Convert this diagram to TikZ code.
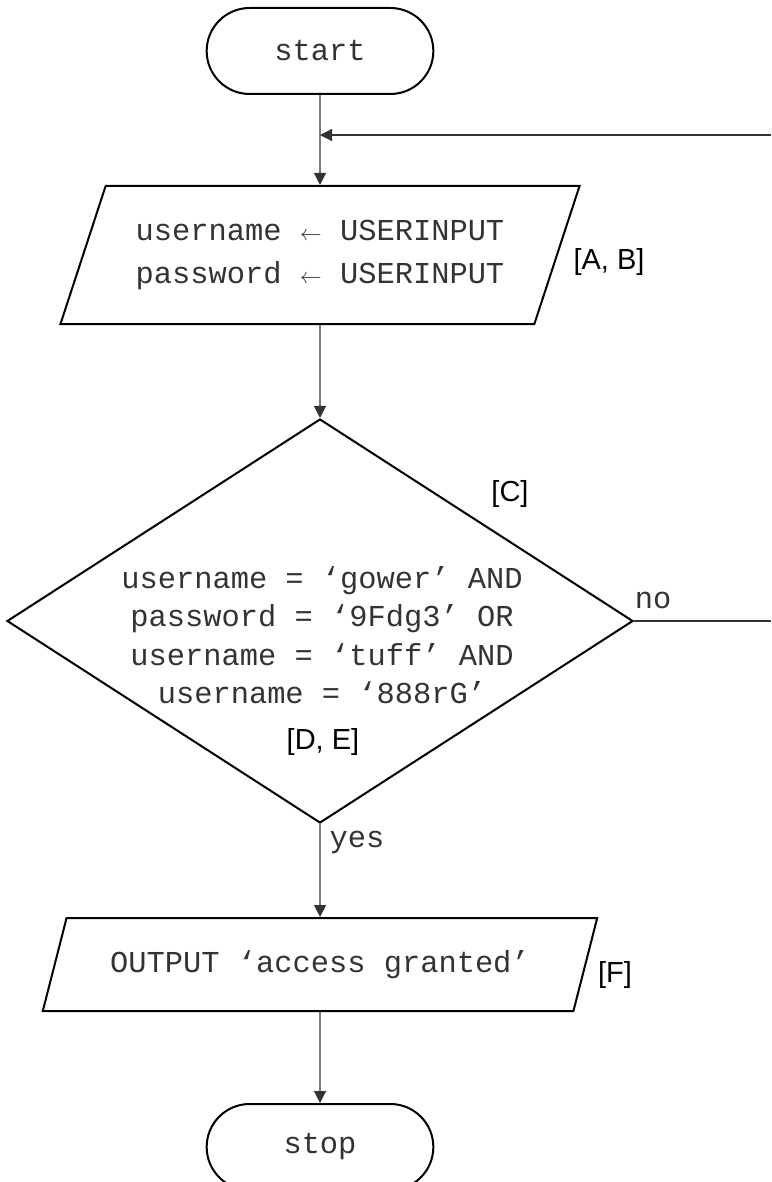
\documentclass[tikz,border=0pt]{standalone}
\usepackage{fontspec}
\setmainfont{Liberation Mono}
\newfontfamily\tagfont{Liberation Sans}
\usetikzlibrary{shapes.geometric,shapes.misc,arrows.meta}

\newcommand{\assign}{{\fontsize{11}{11}\selectfont$\leftarrow$}}

\tikzset{
	terminal/.style={draw,line width=1pt,rounded rectangle,minimum width=120pt,minimum height=43pt},
	io/.style={draw,line width=1pt,trapezium,trapezium left angle=64,trapezium right angle=116,trapezium stretches=true,align=center},
	decision/.style={draw,line width=1pt,diamond,minimum width=313pt,minimum height=202pt,inner sep=0pt},
	tag/.style={font=\tagfont\fontsize{14.5}{17}\selectfont,text=black},
	flow/.style={line width=0.6pt,draw=black!80,-{Triangle[length=6pt,width=6pt]}}
}

\begin{document}
\begin{tikzpicture}[x=0.5pt,y=-0.5pt,font=\fontsize{15.2}{19.25}\selectfont,text=black!80]
	 \useasboundingbox (0,0) rectangle (771,1182);%page size

            \node[terminal] (start) at (320,51) {start};
            \node[io,minimum width=260pt,minimum height=69pt] (in) at (320,255)
              {username \assign{} USERINPUT\\[2pt]password \assign{} USERINPUT};
            \node[decision] (cond) at (320,621) {};
            \node[align=center] (condtext) at (322,635)
              {username = ‘gower’ AND\\password = ‘9Fdg3’ OR\\username = ‘tuff’ AND\\username = ‘888rG’};
            \node[io,minimum width=278pt,minimum height=46.5pt] (out) at (320,964.5) {OUTPUT ‘access granted’};
            \node[terminal] (stop) at (320,1147) {stop};

            % bracket tags
            \foreach \name/\x/\y/\txt in {ab/609/262/{[A, B]},c/510/494/{[C]},de/323/742/{[D, E]},f/615/975/{[F]}}{
              \node[tag] (tag\name) at (\x,\y) {\txt};
            }

            \node (no) at (653,600) {no};
            \node (yes) at (357,842) {yes};

            \coordinate (back) at (771,135);
            \coordinate (join) at (320,135);
            \coordinate (exit) at (771,621);

            \draw[flow] (start) -- (in);
            \draw[flow] (back) -- (join);
            \draw[flow] (in) -- (cond);
            \draw[flow,-] (cond.east) -- (exit);
            \draw[flow] (cond) -- (out);
            \draw[flow] (out) -- (stop);
        \end{tikzpicture}
\end{document}
